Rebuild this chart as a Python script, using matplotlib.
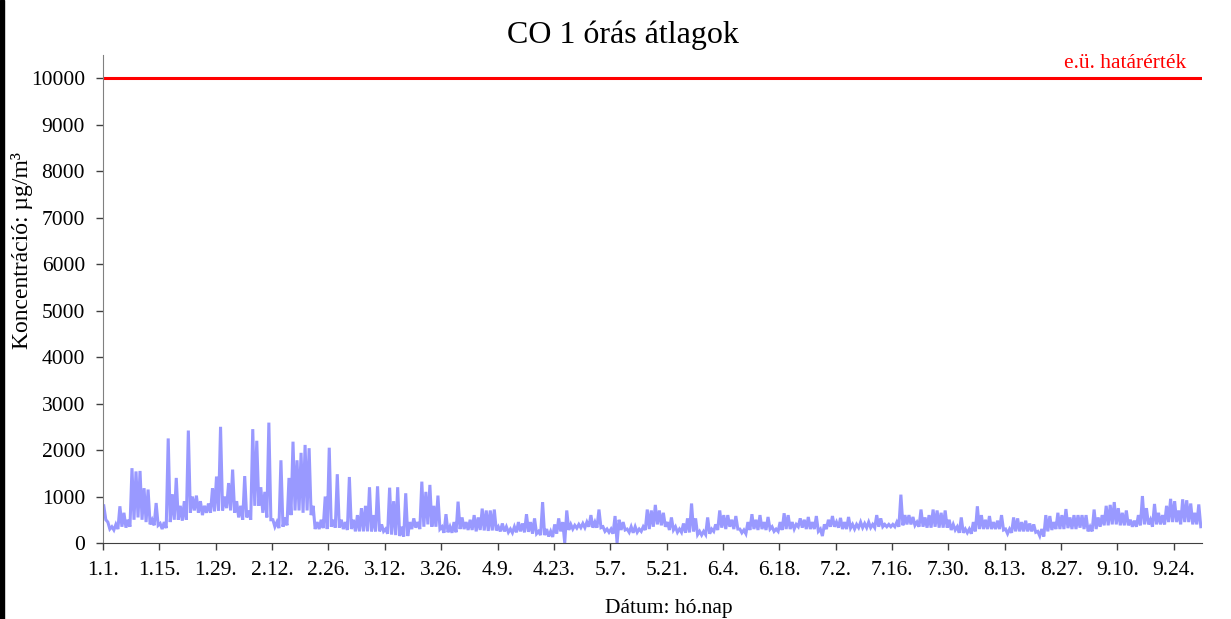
import numpy as np
import matplotlib.pyplot as plt
from matplotlib.patches import Rectangle

plt.rcParams['font.family'] = ['Liberation Serif', 'DejaVu Serif']

# daily low / high of the hourly CO averages (ug/m3), 1 Jan .. 30 Sep
day_low = [
    500, 300, 280, 300, 350, 330, 350, 500, 550, 500, 450, 400, 380, 380, 300, 320, 450,
    500, 500, 480, 500, 650, 700, 650, 600, 650, 650, 680, 700, 700, 750, 700, 650, 550,
    500, 550, 500, 800, 800, 650, 550, 500, 350, 320, 350, 380, 600, 700, 700, 650, 700,
    600, 300, 300, 320, 300, 350, 330, 330, 300, 280, 300, 250, 250, 250, 250, 250, 250,
    250, 250, 200, 180, 170, 150, 140, 150, 300, 330, 300, 350, 400, 350, 350, 300, 220,
    230, 220, 230, 300, 300, 280, 280, 250, 280, 270, 260, 270, 270, 250, 250, 230, 220,
    230, 250, 230, 240, 200, 200, 170, 170, 140, 130, 200, 250, 0, 280, 300, 320, 330,
    330, 350, 330, 330, 330, 250, 230, 200, 0, 280, 280, 230, 220, 230, 250, 280, 300,
    350, 400, 380, 350, 280, 280, 230, 230, 220, 230, 250, 180, 170, 180, 200, 250, 280,
    330, 300, 350, 300, 300, 220, 200, 280, 300, 280, 300, 280, 300, 250, 250, 280, 300,
    300, 300, 350, 330, 300, 300, 300, 250, 150, 300, 350, 350, 330, 300, 300, 320, 300,
    330, 330, 330, 330, 330, 350, 350, 350, 350, 350, 350, 380, 400, 400, 380, 350, 350,
    330, 330, 350, 330, 330, 330, 280, 280, 220, 220, 220, 200, 250, 300, 300, 300, 300,
    300, 300, 280, 200, 220, 250, 250, 250, 250, 250, 230, 150, 140, 250, 280, 300, 300,
    300, 320, 300, 300, 330, 300, 250, 250, 300, 350, 380, 380, 400, 400, 380, 380, 380,
    350, 350, 380, 400, 400, 350, 400, 400, 400, 450, 450, 450, 400, 450, 450, 400, 400,
    350,
]
day_high = [
    800, 450, 350, 400, 790, 650, 500, 1610, 1540, 1550, 1180, 1150, 500, 860, 420, 450,
    2250, 1050, 1400, 800, 900, 2420, 1000, 1020, 900, 800, 850, 1180, 1430, 2500, 1000,
    1290, 1580, 900, 800, 1440, 700, 2450, 2200, 1200, 1100, 2590, 500, 450, 1780, 550,
    1400, 2180, 1780, 1940, 2110, 2040, 800, 450, 500, 1000, 2050, 500, 1480, 500, 450,
    1420, 500, 600, 750, 800, 1200, 600, 1220, 400, 300, 1190, 900, 1200, 350, 1070, 450,
    530, 450, 1320, 1100, 1250, 800, 1020, 350, 620, 350, 450, 890, 550, 450, 500, 600,
    550, 740, 700, 700, 720, 350, 420, 350, 300, 350, 450, 420, 620, 450, 530, 250, 880,
    300, 250, 400, 530, 450, 700, 400, 380, 400, 420, 450, 600, 450, 720, 350, 300, 300,
    580, 500, 450, 300, 350, 350, 300, 350, 720, 700, 820, 700, 650, 450, 550, 350, 300,
    420, 530, 850, 530, 250, 250, 550, 300, 400, 700, 600, 600, 500, 580, 300, 280, 450,
    620, 500, 600, 450, 560, 350, 300, 450, 640, 600, 450, 400, 530, 500, 560, 450, 580,
    300, 400, 500, 580, 450, 540, 450, 560, 400, 400, 450, 420, 450, 400, 600, 530, 400,
    400, 400, 450, 1040, 600, 600, 560, 450, 720, 550, 600, 720, 700, 650, 700, 500, 400,
    350, 550, 300, 300, 450, 790, 600, 500, 580, 450, 480, 600, 300, 300, 550, 530, 450,
    480, 420, 400, 250, 300, 600, 580, 450, 650, 600, 730, 550, 600, 600, 600, 600, 350,
    720, 550, 600, 800, 820, 880, 750, 650, 700, 500, 480, 600, 1010, 750, 500, 840, 650,
    600, 800, 950, 900, 700, 940, 920, 850, 650, 830,
]
tick_labels = ['1.1.', '1.15.', '1.29.', '2.12.', '2.26.', '3.12.', '3.26.', '4.9.',
               '4.23.', '5.7.', '5.21.', '6.4.', '6.18.', '7.2.', '7.16.', '7.30.',
               '8.13.', '8.27.', '9.10.', '9.24.']
limit = 10000

n_days = len(day_low)
x = []
y = []
for d in range(n_days):
    x.extend([d + 0.2, d + 0.7])
    y.extend([day_high[d], day_low[d]])

fig = plt.figure(figsize=(12.31, 6.19), dpi=100)
ax = fig.add_axes([103 / 1231, 1 - 543 / 619, 1099 / 1231, 488 / 619])

ax.plot(x, y, color='#9999ff', lw=2.2, solid_joinstyle='miter')
ax.plot([0, n_days], [limit, limit], color='#ff0000', lw=2.2)
ax.text(269, 10220, 'e.ü. határérték', color='#ff0000', fontsize=15.5,
        ha='right', va='baseline')

ax.set_xlim(0, n_days)
ax.set_ylim(0, 10500)
ax.set_xticks(np.arange(0, 14 * len(tick_labels), 14))
ax.set_xticklabels(tick_labels)
ax.set_yticks(np.arange(0, 10001, 1000))

for s in ['top', 'right']:
    ax.spines[s].set_visible(False)
ax.spines['left'].set_color('#808080')
ax.spines['bottom'].set_color('#404040')
ax.tick_params(axis='both', labelsize=15.5, direction='out', length=5, width=1,
               colors='#404040', labelcolor='black')
ax.tick_params(axis='x', pad=8)
ax.tick_params(axis='y', pad=8)

ax.set_xlabel('Dátum: hó.nap', fontsize=15.5)
ax.xaxis.set_label_coords(0.515, -0.115)
ax.set_ylabel('Koncentráció: µg/m³', fontsize=17)
ax.yaxis.set_label_coords(-0.064, 0.6)

fig.text(0.506, 0.943, 'CO 1 órás átlagok', fontsize=23, ha='center', va='center')
fig.patches.append(Rectangle((0, 0), 4 / 1231, 1, transform=fig.transFigure,
                             color='black', zorder=10))

fig.savefig('out.png', dpi=100)
